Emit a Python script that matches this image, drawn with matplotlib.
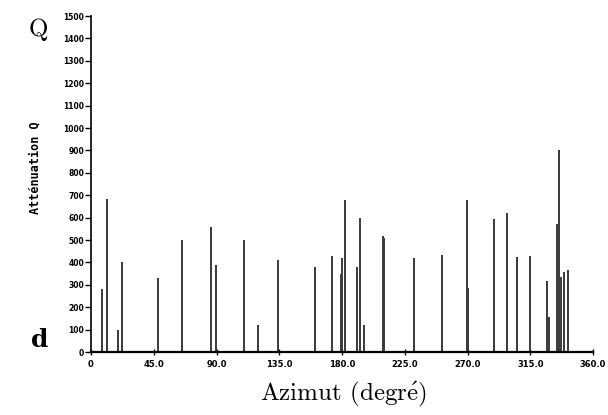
import matplotlib
matplotlib.use("Agg")
import matplotlib.pyplot as plt

plt.rcParams["mathtext.fontset"] = "cm"

# azimuth (degrees) and attenuation Q
azimut = [7.7, 11.8, 19.1, 22.0, 48.4, 65.6, 85.9, 89.6, 109.7, 120.0,
          133.9, 160.6, 172.6, 179.1, 180.0, 182.4, 190.5, 192.9, 195.8,
          209.3, 209.9, 231.9, 251.4, 269.4, 270.4, 289.0, 298.1, 305.7,
          314.8, 327.2, 328.6, 333.9, 335.4, 336.8, 339.2, 341.9]
attenuation = [280, 685, 100, 400, 330, 500, 560, 390, 500, 120,
               410, 380, 430, 348, 418, 680, 380, 600, 120,
               520, 510, 420, 433, 680, 285, 595, 620, 425,
               430, 315, 158, 570, 900, 335, 355, 365]

xticks = [0, 45, 90, 135, 180, 225, 270, 315, 360]
xlabels = ["0", "45.0", "90.0", "135.0", "180.0", "225.0", "270.0", "315.0", "360.0"]
yticks = list(range(0, 1600, 100))

fig = plt.figure(figsize=(6.08, 4.15), dpi=100)
ax = fig.add_axes([91/608, 63/415, 502/608, 336/415])

ax.vlines(azimut, 0, attenuation, color="#3a3a3a", linewidth=1.4)

ax.set_xlim(0, 360)
ax.set_ylim(0, 1500)
ax.set_xticks(xticks)
ax.set_xticklabels(xlabels)
ax.set_yticks(yticks)
ax.set_yticklabels([str(v) for v in yticks])

for s in ["top", "right"]:
    ax.spines[s].set_visible(False)
ax.spines["left"].set_linewidth(1.2)
ax.spines["bottom"].set_linewidth(1.6)
ax.tick_params(axis="y", direction="out", length=4, width=1, pad=1,
               labelsize=5.5)
ax.tick_params(axis="x", direction="inout", length=5, width=1, pad=3,
               labelsize=6)
for lab in ax.get_xticklabels() + ax.get_yticklabels():
    lab.set_fontweight("bold")

fig.text(35/608, 1 - 168/415, "Atténuation Q", rotation=90, fontsize=8.5,
         family="DejaVu Sans Mono", fontweight="bold", ha="center", va="center")
fig.text(38/608, 1 - 30/415, "Q", fontsize=18,
         family=["cmr10", "DejaVu Serif"], ha="center", va="center")
fig.text(40/608, 1 - 340/415, "d", fontsize=18, fontweight="bold",
         family="DejaVu Serif", ha="center", va="center")
fig.text(343/608, 1 - 394/415, r"Azimut (degr$\acute{\mathrm{e}}$)", fontsize=18,
         family=["cmr10", "DejaVu Serif"], ha="center", va="center")

fig.savefig("out.png", dpi=100)
